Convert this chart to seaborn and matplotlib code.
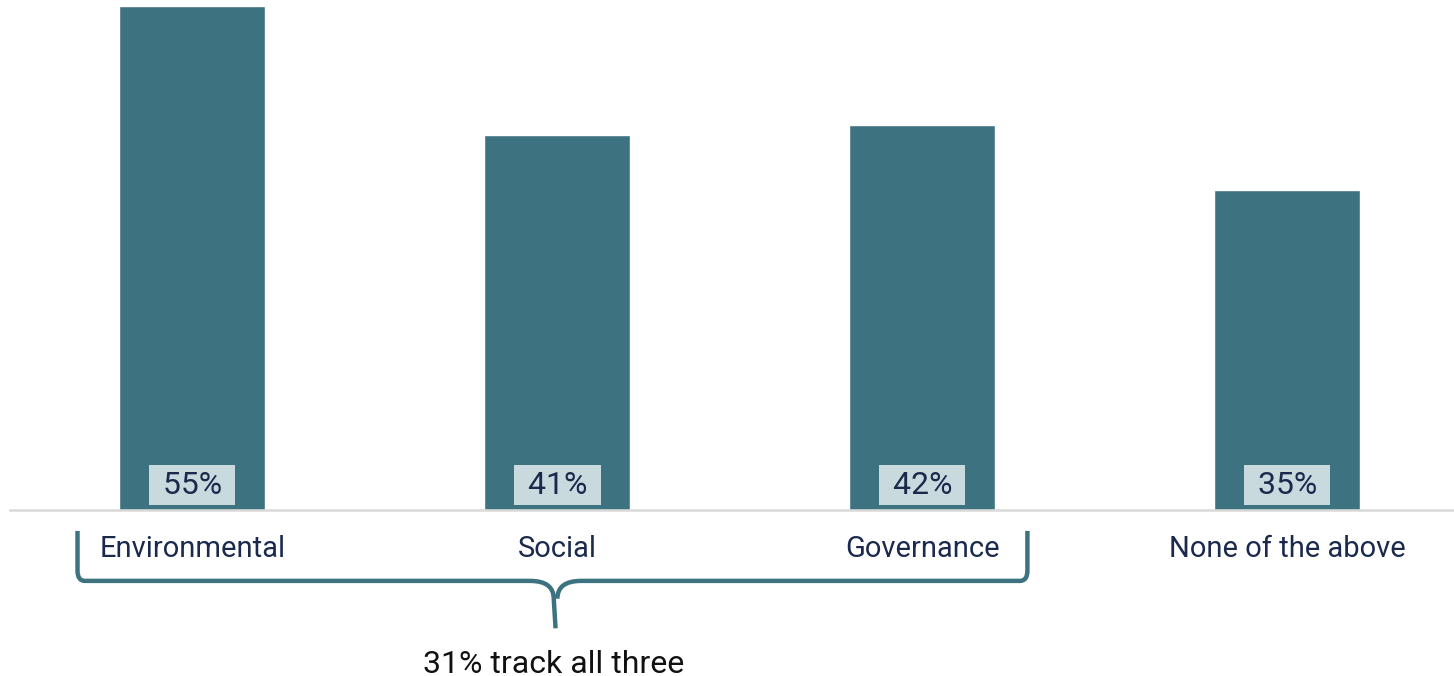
import matplotlib
matplotlib.use("Agg")
import matplotlib.pyplot as plt
import seaborn as sns
import pandas as pd
from matplotlib.path import Path
from matplotlib.patches import PathPatch
from matplotlib.transforms import blended_transform_factory

categories = ["Environmental", "Social", "Governance", "None of the above"]
values = [55, 41, 42, 35]
value_labels = ["55%", "41%", "42%", "35%"]
note = "31% track all three"

BAR = "#3d7380"
BOX = "#c9dadf"
NAVY = "#1b2a4c"

sns.set_theme(style="white")
plt.rcParams["font.family"] = ["Roboto", "DejaVu Sans"]

fig = plt.figure(figsize=(14.54, 6.76), dpi=100)
ax = fig.add_axes([10 / 1454, (676 - 510) / 676, 1 - 10 / 1454, 510 / 676])

df = pd.DataFrame({"cat": categories, "val": values})
sns.barplot(data=df, x="cat", y="val", color=BAR, width=0.4, saturation=1, ax=ax)

ax.set_xlim(-0.5, 3.457)
ax.set_ylim(0, 55.7)
for s in ["top", "right", "left"]:
    ax.spines[s].set_visible(False)
ax.spines["bottom"].set_color("#d9d9d9")
ax.spines["bottom"].set_linewidth(1.8)
ax.set_yticks([])
ax.set_xlabel("")
ax.set_ylabel("")
ax.tick_params(axis="x", length=0, pad=18, labelsize=21, labelcolor=NAVY)

for i, lab in enumerate(value_labels):
    ax.annotate(" " + lab + " ", xy=(i, 0), xytext=(0, 18), textcoords="offset points",
                ha="center", va="center", fontsize=23, color=NAVY,
                bbox=dict(boxstyle="square,pad=0.17", fc=BOX, ec="none"))

# brace under first three categories
tr = blended_transform_factory(ax.transData, ax.transAxes)
x0, x1, xm = -0.315, 2.288, 0.995
ytop, ymid, ybot = -0.041, -0.139, -0.232
dx = 0.02
dy = 0.02
verts = [
    (x0, ytop), (x0, ymid + dy), (x0, ymid), (x0 + dx, ymid),
    (xm - 0.07, ymid), (xm - 0.005, ymid), (xm - 0.005, ymid - 0.035), (xm, ybot),
    (xm + 0.005, ymid - 0.035), (xm + 0.005, ymid), (xm + 0.07, ymid),
    (x1 - dx, ymid), (x1, ymid), (x1, ymid + dy), (x1, ytop),
]
codes = [
    Path.MOVETO, Path.LINETO, Path.CURVE3, Path.CURVE3,
    Path.LINETO, Path.CURVE3, Path.CURVE3, Path.LINETO,
    Path.MOVETO, Path.CURVE3, Path.CURVE3,
    Path.LINETO, Path.CURVE3, Path.CURVE3, Path.LINETO,
]
patch = PathPatch(Path(verts, codes), fc="none", ec=BAR, lw=3.2,
                  transform=tr, clip_on=False, capstyle="butt", joinstyle="round")
ax.add_patch(patch)

ax.text(xm - 0.005, -0.302, note, transform=tr, ha="center", va="center",
        fontsize=23, color="#111111")

fig.savefig("out.png", dpi=100)
